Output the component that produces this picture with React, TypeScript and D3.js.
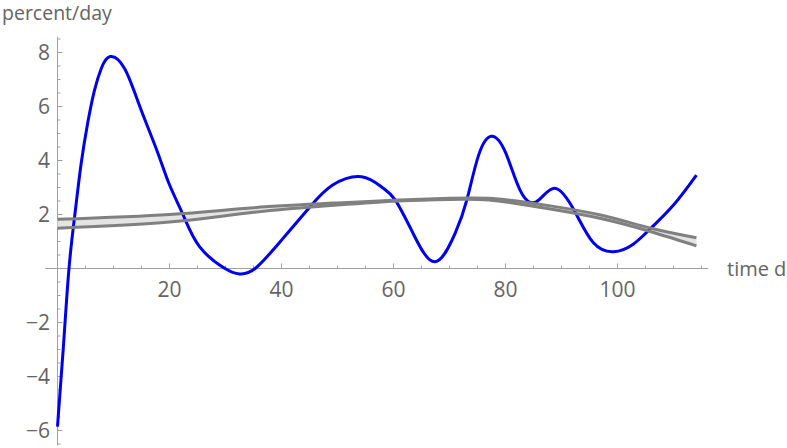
import React from "react";
import * as d3 from "d3";

// Blue curve: percent/day vs time (d)
const blueT = [0, 1.05, 2.05, 3.1, 4.2, 5.4, 6.6, 7.8, 9.4, 12.0, 14.7, 17.7, 20.0, 22.4, 25.4, 29.9, 32.5, 35.3, 40.0, 45.1, 49.2, 54.3, 58.0, 60.3, 63.5, 67.4, 71.0, 73.1, 75.2, 77.5, 80.0, 82.6, 85.5, 88.8, 92.4, 95.7, 99.3, 102.8, 106.0, 110.0, 114.1];
const blueV = [-5.86, -2.9, 0, 2.0, 3.85, 5.4, 6.6, 7.4, 7.85, 7.4, 6.0, 4.4, 3.1, 2.0, 0.8, 0.0, -0.2, 0.0, 1.05, 2.29, 3.1, 3.4, 3.0, 2.54, 1.3, 0.25, 1.3, 2.54, 4.2, 4.9, 4.3, 2.9, 2.47, 2.97, 2.1, 0.95, 0.62, 0.9, 1.5, 2.35, 3.46];

// Gray band: upper and lower trend lines
const bandT = [0, 20, 35, 50, 61, 70, 77, 83, 88, 97, 106, 114.1];
const upperV = [1.82, 2.0, 2.25, 2.43, 2.54, 2.6, 2.6, 2.47, 2.32, 1.98, 1.49, 1.14];
const lowerV = [1.49, 1.72, 2.08, 2.35, 2.5, 2.56, 2.54, 2.37, 2.2, 1.85, 1.36, 0.84];

const xTicks = [20, 40, 60, 80, 100];
const yTicks = [-6, -4, -2, 2, 4, 6, 8];

const W = 787;
const H = 448;
const FONT = "'Open Sans', sans-serif";
const TEXT = "#646464";
const AXIS = "#a0a0a0";

export default function App() {
  const x = d3.scaleLinear().domain([0, 100]).range([57.5, 617.5]);
  const y = d3.scaleLinear().domain([0, 8]).range([268.5, 52.5]);
  const xMin = -2.2, xMax = 116.2, yMin = -6.55, yMax = 8.58;

  const blue = blueT.map((t, i) => [t, blueV[i]] as [number, number]);
  const up = bandT.map((t, i) => [t, upperV[i]] as [number, number]);
  const lo = bandT.map((t, i) => [t, lowerV[i]] as [number, number]);

  const blueLine = d3.line<[number, number]>().x(d => x(d[0])).y(d => y(d[1])).curve(d3.curveNatural);
  const line = d3.line<[number, number]>().x(d => x(d[0])).y(d => y(d[1])).curve(d3.curveNatural);
  const area = d3.area<number>()
    .x((_, i) => x(bandT[i]))
    .y0((_, i) => y(lowerV[i]))
    .y1((_, i) => y(upperV[i]))
    .curve(d3.curveNatural);

  const xMinor = d3.range(5, 116, 5).filter(v => v % 20 !== 0);
  const yMinor = d3.range(-6.5, 8.51, 0.5).filter(v => Math.abs(v % 2) > 1e-6 && Math.abs(v) > 1e-6);

  return (
    <svg width={W} height={H} style={{ position: "absolute", left: 0, top: 0, background: "#fff" }}>
      {/* axes */}
      <line x1={x(xMin)} x2={x(xMax)} y1={y(0)} y2={y(0)} stroke={AXIS} strokeWidth={1} />
      <line x1={x(0)} x2={x(0)} y1={y(yMin)} y2={y(yMax)} stroke={AXIS} strokeWidth={1} />
      {xTicks.map(v => (
        <g key={"xt" + v}>
          <line x1={x(v)} x2={x(v)} y1={y(0)} y2={y(0) - 5} stroke={AXIS} />
          <text x={x(v)} y={y(0) + 28} textAnchor="middle" fontFamily={FONT} fontSize={21} fill={TEXT}>{v}</text>
        </g>
      ))}
      {xMinor.map(v => (
        <line key={"xm" + v} x1={x(v)} x2={x(v)} y1={y(0)} y2={y(0) - 3} stroke={AXIS} />
      ))}
      {yTicks.map(v => (
        <g key={"yt" + v}>
          <line x1={x(0)} x2={x(0) + 5} y1={y(v)} y2={y(v)} stroke={AXIS} />
          <text x={50} y={y(v) + 7.5} textAnchor="end" fontFamily={FONT} fontSize={21} fill={TEXT}>{v < 0 ? "\u2212" + Math.abs(v) : v}</text>
        </g>
      ))}
      {yMinor.map(v => (
        <line key={"ym" + v} x1={x(0)} x2={x(0) + 3} y1={y(v)} y2={y(v)} stroke={AXIS} />
      ))}
      <text x={727} y={276} fontFamily={FONT} fontSize={20} fill={TEXT}>time d</text>
      <text x={2} y={20} fontFamily={FONT} fontSize={19.5} fill={TEXT}>percent/day</text>

      {/* band */}
      <path d={area(bandT) || ""} fill="#e4e4e4" />
      {/* blue curve */}
      <path d={blueLine(blue) || ""} fill="none" stroke="#0000f0" strokeWidth={3} strokeLinejoin="round" />
      {/* gray lines */}
      <path d={line(up) || ""} fill="none" stroke="#808080" strokeWidth={3} />
      <path d={line(lo) || ""} fill="none" stroke="#808080" strokeWidth={3} />
    </svg>
  );
}
